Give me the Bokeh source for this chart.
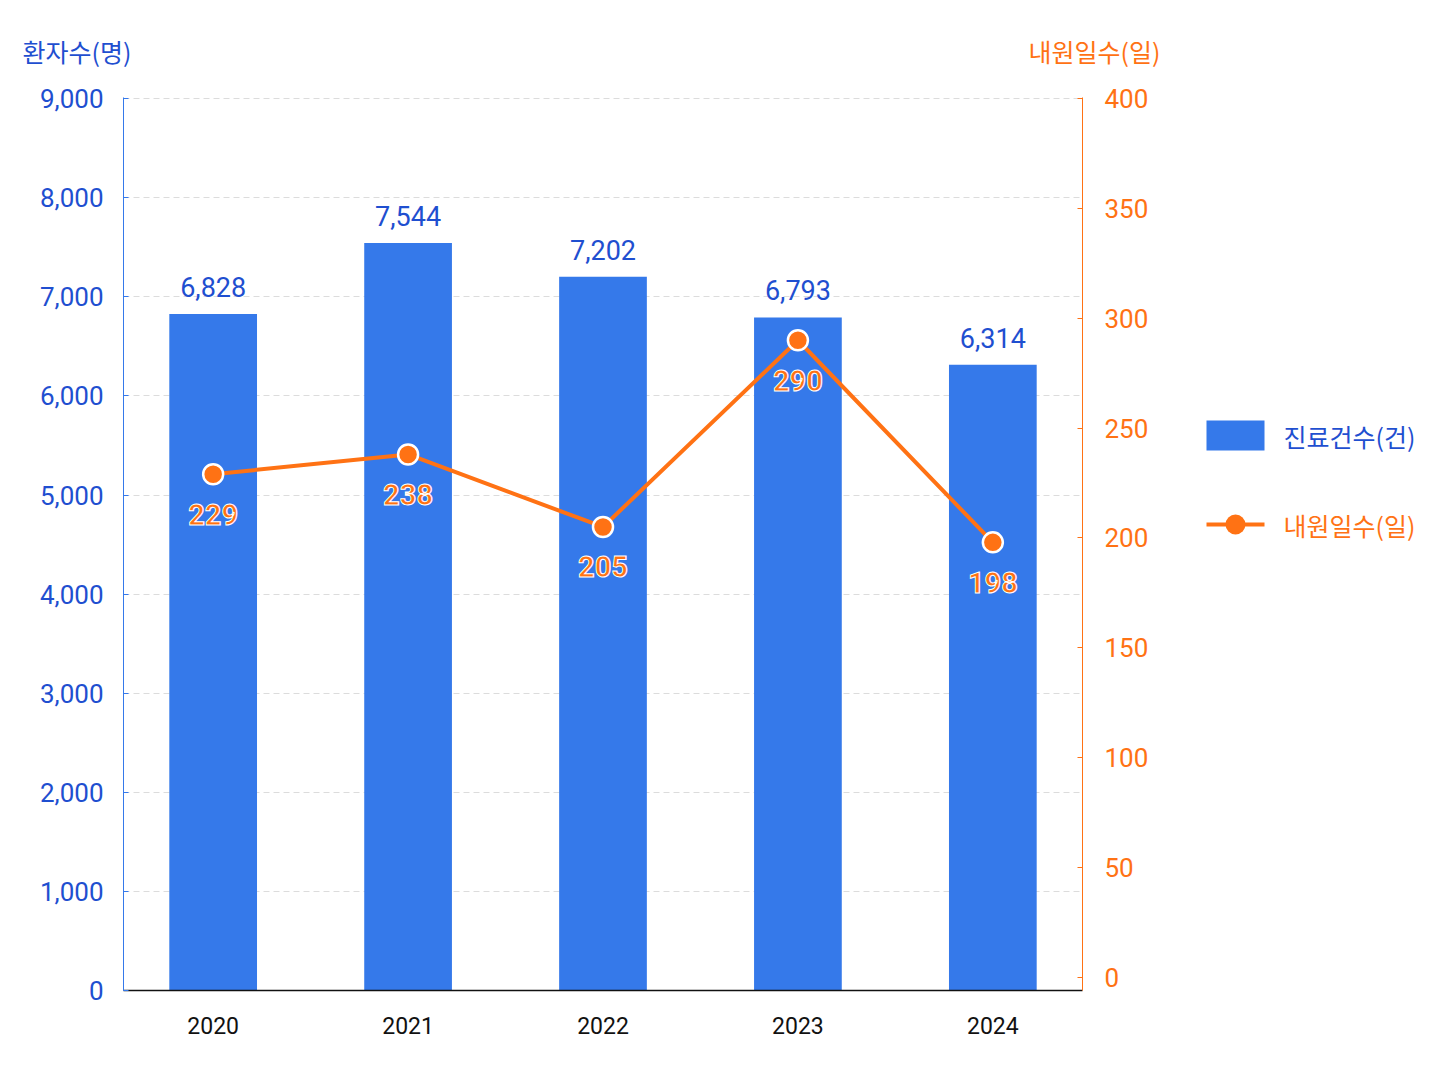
from bokeh.plotting import figure
from bokeh.layouts import row
from bokeh.models import (Range1d, LinearAxis, FixedTicker, NumeralTickFormatter,
                          ColumnDataSource)
from bokeh.core.properties import value
from bokeh.embed import file_html
from bokeh.resources import INLINE

years = ["2020", "2021", "2022", "2023", "2024"]
patients = [6828, 7544, 7202, 6793, 6314]
visit_days = [229, 238, 205, 290, 198]
left_ticks = [0, 1000, 2000, 3000, 4000, 5000, 6000, 7000, 8000, 9000]
right_ticks = [0, 50, 100, 150, 200, 250, 300, 350, 400]
left_title = "환자수(명)"
right_title = "내원일수(일)"
bar_name = "진료건수(건)"
line_name = "내원일수(일)"

BLUE = "#3579EA"
BLUE_TXT = "#1F4FD0"
ORANGE = "#FF7214"
KFONT = "Noto Sans CJK KR"
NFONT = "Roboto"
W = 1432
MAIN_W = 1144
SIDE_W = W - MAIN_W

# ---- top strip with the two axis titles ----
top = figure(width=W, height=70, output_backend="svg", toolbar_location=None,
             x_range=Range1d(0, W), y_range=Range1d(0, 70),
             x_axis_type=None, y_axis_type=None, min_border=0)
top.outline_line_color = None
top.grid.grid_line_color = None
tsrc = ColumnDataSource(dict(x=[14, 1086], y=[28, 28],
                             t=[left_title, right_title],
                             c=[BLUE_TXT, ORANGE], a=["left", "center"]))
top.text(x="x", y="y", text="t", text_color="c", text_align="a", source=tsrc,
         text_baseline="middle", text_font=value(KFONT), text_font_size="25px")

# ---- main chart ----
xs = list(range(len(years)))
src = ColumnDataSource(dict(
    x=xs, year=years, pat=patients, days=visit_days,
    pat_lbl=[f"{v:,}" for v in patients],
    day_lbl=[str(v) for v in visit_days],
))

p = figure(width=MAIN_W, height=1000, output_backend="svg", toolbar_location=None,
           x_range=Range1d(-0.46, 4.46), y_range=Range1d(0, 9012),
           min_border_left=115, min_border_top=19, min_border_right=70,
           min_border_bottom=88)
p.outline_line_color = None
p.extra_y_ranges = {"r": Range1d(-6, 400.5)}

p.yaxis.ticker = FixedTicker(ticks=left_ticks)
p.yaxis.formatter = NumeralTickFormatter(format="0,0")
p.yaxis.axis_line_color = BLUE
p.yaxis.major_tick_line_color = BLUE
p.yaxis.major_tick_in = 5
p.yaxis.major_tick_out = 0
p.yaxis.minor_tick_line_color = None
p.yaxis.major_label_text_color = BLUE_TXT
p.yaxis.major_label_text_font = NFONT
p.yaxis.major_label_text_font_size = "26px"
p.yaxis.major_label_standoff = 20

p.xaxis.ticker = FixedTicker(ticks=xs)
p.xaxis.major_label_overrides = {i: y for i, y in zip(xs, years)}
p.xaxis.axis_line_color = "#111111"
p.xaxis.axis_line_width = 1.5
p.xaxis.major_tick_line_color = None
p.xaxis.minor_tick_line_color = None
p.xaxis.major_label_text_color = "#111111"
p.xaxis.major_label_text_font = NFONT
p.xaxis.major_label_text_font_size = "23px"
p.xaxis.major_label_standoff = 20

raxis = LinearAxis(y_range_name="r", ticker=FixedTicker(ticks=right_ticks))
raxis.axis_line_color = ORANGE
raxis.major_tick_line_color = ORANGE
raxis.major_tick_in = 5
raxis.major_tick_out = 0
raxis.minor_tick_line_color = None
raxis.major_label_text_color = ORANGE
raxis.major_label_text_font = NFONT
raxis.major_label_text_font_size = "26px"
raxis.major_label_standoff = 22
p.add_layout(raxis, "right")

p.xgrid.grid_line_color = None
p.ygrid.ticker = FixedTicker(ticks=left_ticks)
p.ygrid.grid_line_color = "#DCDCDC"
p.ygrid.grid_line_dash = "6 4"

p.vbar(x="x", top="pat", width=0.45, source=src, fill_color=BLUE,
       line_color=None)
p.text(x="x", y="pat", text="pat_lbl", source=src, text_align="center",
       text_baseline="bottom", y_offset=-17, text_color=BLUE_TXT,
       text_font=value(NFONT), text_font_size="27px")

p.line(x="x", y="days", source=src, y_range_name="r", line_color=ORANGE,
       line_width=4)
p.scatter(x="x", y="days", source=src, y_range_name="r", size=20,
          fill_color=ORANGE, line_color="white", line_width=2.5)
p.text(x="x", y="days", text="day_lbl", source=src, y_range_name="r",
       text_align="center", text_baseline="middle", y_offset=40,
       text_color=ORANGE, text_font=value(NFONT), text_font_size="29px",
       text_font_style="bold", text_outline_color="white")

# ---- legend panel at the right ----
side = figure(width=SIDE_W, height=1000, output_backend="svg",
              toolbar_location=None, x_range=Range1d(0, SIDE_W),
              y_range=Range1d(0, 893), x_axis_type=None, y_axis_type=None,
              min_border_left=0, min_border_right=0, min_border_top=19,
              min_border_bottom=88)
side.outline_line_color = None
side.grid.grid_line_color = None
side.quad(left=[54], right=[112], bottom=[540], top=[570], fill_color=BLUE,
          line_color=None)
side.line(x=[54, 112], y=[466, 466], line_color=ORANGE, line_width=4)
side.scatter(x=[83], y=[466], size=20, fill_color=ORANGE, line_color=None)
lsrc = ColumnDataSource(dict(x=[131, 131], y=[555, 466], t=[bar_name, line_name],
                             c=[BLUE_TXT, ORANGE]))
side.text(x="x", y="y", text="t", text_color="c", source=lsrc,
          text_align="left", text_baseline="middle", text_font=value(KFONT),
          text_font_size="25px")

html = file_html([top, row(p, side, spacing=0)], INLINE)
html = html.replace("<body>", "<body style='margin:8px'>")
open("out.html", "w").write(html)
